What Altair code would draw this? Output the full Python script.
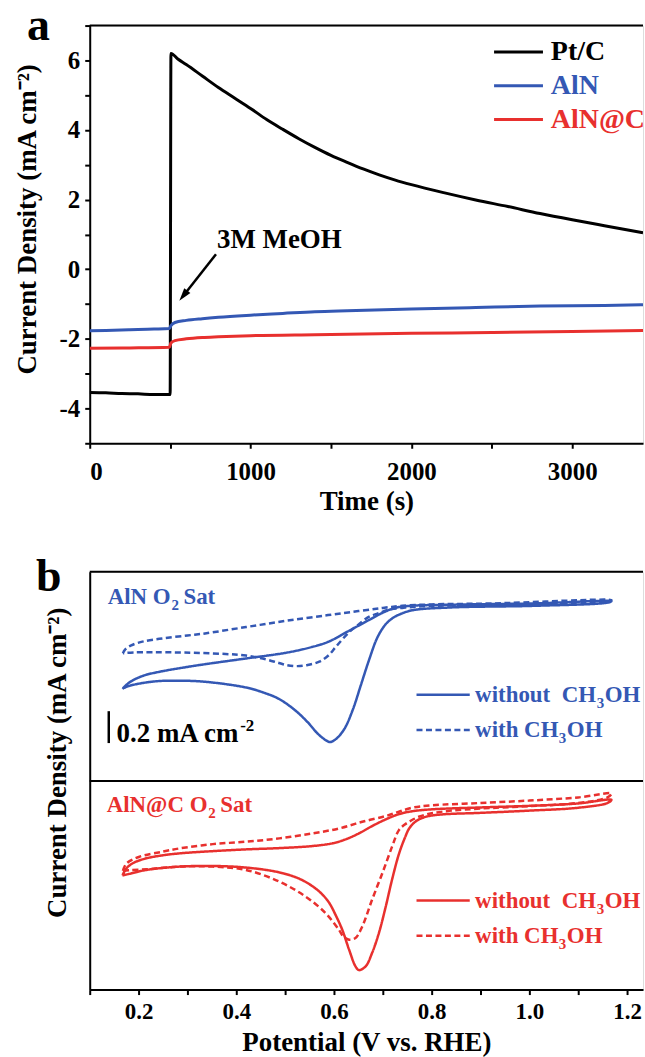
import altair as alt
import pandas as pd

FONT = "Liberation Serif"
BLACK = "#000000"
BLUE = "#3458b4"
RED = "#e8302e"

W = 555   # plot width of each panel (px)
H = 419   # plot height of each panel (px)

# ---------------- (a) chronoamperometry, 3M MeOH injected at 500 s ----------------
SERIES_A = ["Pt/C", "AlN", "AlN@C"]
COLORS_A = [BLACK, BLUE, RED]

time_ptc = [0, 100, 200, 300, 400, 500, 505, 550, 600, 700, 800, 900, 1000, 1100, 1200,
            1300, 1400, 1500, 1600, 1700, 1800, 1900, 2000, 2200, 2400, 2600, 2800, 3000, 3200, 3440]
j_ptc = [-3.54, -3.55, -3.57, -3.58, -3.60, -3.60, 6.20, 6.03, 5.88, 5.55, 5.22, 4.92, 4.62, 4.30, 4.02,
         3.75, 3.50, 3.27, 3.07, 2.88, 2.71, 2.56, 2.43, 2.20, 1.99, 1.80, 1.60, 1.42, 1.25, 1.05]

time_aln = [0, 100, 250, 400, 495, 505, 530, 600, 700, 800, 1000, 1200, 1400, 1600, 2000, 2400, 2800, 3200, 3440]
j_aln = [-1.77, -1.76, -1.74, -1.72, -1.70, -1.62, -1.53, -1.47, -1.42, -1.38, -1.32, -1.27, -1.22, -1.19,
         -1.14, -1.10, -1.06, -1.04, -1.02]

time_alnc = [0, 250, 495, 505, 530, 600, 700, 800, 1000, 1400, 2000, 2500, 3000, 3440]
j_alnc = [-2.27, -2.26, -2.24, -2.12, -2.05, -2.00, -1.96, -1.94, -1.91, -1.88, -1.84, -1.82, -1.79, -1.76]

TIME_TICKS = [0, 500, 1000, 1500, 2000, 2500, 3000]
J_TICKS = [-5, -4, -3, -2, -1, 0, 1, 2, 3, 4, 5, 6, 7]

# ---------------- (b) CVs in O2-saturated electrolyte, with / without CH3OH ----------------
SAMPLES_B = ["AlN", "AlN@C"]
COLORS_B = [BLUE, RED]
CONDS = ["without", "with"]
OFFSET_TOP = 1.308      # AlN loops sit in the upper half of the stacked panel (mA cm-2)
SCALE_BAR = 0.2         # mA cm-2

e_aln_wo = [0.167, 0.180, 0.194, 0.215, 0.252, 0.300, 0.336, 0.420, 0.504, 0.555, 0.588, 0.630, 0.672,
            0.700, 0.725, 0.756, 0.840, 1.008, 1.168,
            1.160, 1.008, 0.840, 0.760, 0.735, 0.722, 0.706, 0.689, 0.672, 0.655, 0.639, 0.622, 0.605,
            0.592, 0.584, 0.567, 0.546, 0.521, 0.487, 0.454, 0.420, 0.336, 0.278, 0.236, 0.194, 0.175, 0.167]
j_aln_wo = [0.578, 0.615, 0.640, 0.665, 0.690, 0.715, 0.732, 0.768, 0.805, 0.840, 0.872, 0.940, 1.010,
            1.055, 1.085, 1.098, 1.105, 1.113, 1.127,
            1.118, 1.098, 1.088, 1.070, 1.045, 1.025, 0.983, 0.900, 0.760, 0.600, 0.450, 0.330, 0.265,
            0.244, 0.254, 0.296, 0.369, 0.442, 0.515, 0.556, 0.586, 0.622, 0.629, 0.625, 0.606, 0.590, 0.578]

e_aln_w = [0.168, 0.172, 0.185, 0.210, 0.252, 0.300, 0.336, 0.420, 0.504, 0.588, 0.650, 0.700, 0.740,
           0.800, 0.924, 1.168,
           1.160, 0.924, 0.780, 0.740, 0.714, 0.690, 0.672, 0.650, 0.630, 0.605, 0.588, 0.570, 0.546,
           0.525, 0.504, 0.487, 0.460, 0.420, 0.378, 0.294, 0.230, 0.190, 0.172, 0.168]
j_aln_w = [0.800, 0.822, 0.850, 0.875, 0.895, 0.912, 0.925, 0.965, 1.005, 1.040, 1.065, 1.085, 1.098,
           1.107, 1.113, 1.134,
           1.125, 1.105, 1.095, 1.085, 1.075, 1.050, 1.030, 0.980, 0.930, 0.845, 0.785, 0.748, 0.727,
           0.720, 0.726, 0.740, 0.763, 0.786, 0.796, 0.805, 0.807, 0.806, 0.802, 0.800]

e_alnc_wo = [0.167, 0.175, 0.190, 0.216, 0.250, 0.284, 0.352, 0.420, 0.488, 0.556, 0.597, 0.624, 0.651,
             0.678, 0.706, 0.733, 0.760, 0.800, 0.900, 1.000, 1.100, 1.168,
             1.160, 1.100, 1.000, 0.900, 0.820, 0.790, 0.770, 0.755, 0.745, 0.733, 0.719, 0.706, 0.692,
             0.678, 0.665, 0.651, 0.644, 0.631, 0.617, 0.603, 0.590, 0.575, 0.556, 0.529, 0.488, 0.420,
             0.352, 0.284, 0.216, 0.180, 0.167]
j_alnc_wo = [0.715, 0.760, 0.795, 0.823, 0.842, 0.854, 0.868, 0.879, 0.887, 0.900, 0.917, 0.942, 0.979,
             1.025, 1.067, 1.100, 1.118, 1.130, 1.142, 1.152, 1.167, 1.190,
             1.170, 1.140, 1.122, 1.108, 1.098, 1.085, 1.060, 1.015, 0.950, 0.850, 0.690, 0.520, 0.354,
             0.229, 0.146, 0.122, 0.146, 0.250, 0.375, 0.470, 0.545, 0.600, 0.648, 0.695, 0.735, 0.765,
             0.775, 0.771, 0.750, 0.725, 0.715]

e_alnc_w = [0.168, 0.175, 0.202, 0.250, 0.284, 0.352, 0.420, 0.488, 0.556, 0.610, 0.658, 0.706, 0.733,
            0.760, 0.800, 0.900, 1.000, 1.100, 1.168,
            1.160, 1.100, 1.000, 0.900, 0.840, 0.800, 0.775, 0.758, 0.745, 0.733, 0.719, 0.699, 0.678,
            0.658, 0.644, 0.631, 0.620, 0.610, 0.583, 0.542, 0.488, 0.420, 0.352, 0.284, 0.216, 0.180, 0.168]
j_alnc_w = [0.744, 0.790, 0.833, 0.865, 0.885, 0.912, 0.927, 0.948, 0.979, 1.010, 1.052, 1.088, 1.115,
            1.140, 1.155, 1.170, 1.185, 1.205, 1.229,
            1.205, 1.170, 1.150, 1.135, 1.122, 1.105, 1.085, 1.060, 1.035, 1.000, 0.896, 0.729, 0.563,
            0.396, 0.323, 0.313, 0.330, 0.375, 0.479, 0.583, 0.677, 0.750, 0.771, 0.771, 0.754, 0.748, 0.744]

E_TICKS = [0.1, 0.2, 0.3, 0.4, 0.5, 0.6, 0.7, 0.8, 0.9, 1.0, 1.1, 1.2]

# ---------------- tables ----------------
rows = []
for name, ts, js in zip(SERIES_A, [time_ptc, time_aln, time_alnc], [j_ptc, j_aln, j_alnc]):
    for i, (t, j) in enumerate(zip(ts, js)):
        rows.append({"series": name, "i": i, "t": t, "j": j})
df_a = pd.DataFrame(rows)

rows = []
curves = [("AlN", "without", e_aln_wo, j_aln_wo), ("AlN", "with", e_aln_w, j_aln_w),
          ("AlN@C", "without", e_alnc_wo, j_alnc_wo), ("AlN@C", "with", e_alnc_w, j_alnc_w)]
for sample, cond, es, js in curves:
    off = OFFSET_TOP if sample == "AlN" else 0.0
    for i, (e, j) in enumerate(zip(es, js)):
        rows.append({"sample": sample, "cond": cond, "i": i, "E": e, "j": j + off})
df_b = pd.DataFrame(rows)

one = pd.DataFrame({"k": [0]})

# ---------------- shared axis styling ----------------
axis_common = dict(domainColor=BLACK, domainWidth=2, tickColor=BLACK, tickWidth=2, tickSize=5,
                   labelFont=FONT, labelFontWeight="bold", labelColor=BLACK,
                   titleFont=FONT, titleFontWeight="bold", titleColor=BLACK, grid=False)

def text_mark(size, color=BLACK, align="left", baseline="alphabetic", dx=0, dy=0, clip=False):
    return dict(font=FONT, fontWeight="bold", fontSize=size, color=color, align=align,
                baseline=baseline, dx=dx, dy=dy, clip=clip)

# ================= panel (a) =================
xa = alt.X("t:Q", scale=alt.Scale(domain=[0, 3440], nice=False, zero=False),
           axis=alt.Axis(values=TIME_TICKS,
                         labelExpr="datum.value % 1000 == 0 ? '' + datum.value : ''",
                         labelFontSize=25, labelPadding=11, title="Time (s)", titleFontSize=27,
                         titleY=66, titleBaseline="alphabetic", **axis_common))
ya = alt.Y("j:Q", scale=alt.Scale(domain=[-5, 7], nice=False, zero=False),
           axis=alt.Axis(values=J_TICKS,
                         labelExpr="datum.value % 2 == 0 ? (datum.value < 0 ? '-' + abs(datum.value) : '' + datum.value) : ''",
                         labelFontSize=25, labelPadding=5, title="Current Density (mA cm\u207b\u00b2)",
                         titleFontSize=27, titleAngle=270, titleX=-62, titleY=194,
                         titleBaseline="middle", titleAlign="center", **axis_common))
ca = alt.Color("series:N", scale=alt.Scale(domain=SERIES_A, range=COLORS_A), legend=None)

lines_a = alt.Chart(df_a).mark_line(strokeWidth=3, interpolate="monotone", clip=True).encode(
    x=xa, y=ya, color=ca, order=alt.Order("i:Q"))

top_a = alt.Chart(one).mark_rule(color=BLACK, strokeWidth=2).encode(
    x=alt.value(0), x2=alt.value(W), y=alt.value(0))

# legend (top right)
leg_a_lines = pd.DataFrame({"series": SERIES_A, "t": [2514] * 3, "t2": [2818] * 3, "j": [6.24, 5.27, 4.30]})
leg_a_text = pd.DataFrame({"series": SERIES_A, "t": [2867] * 3, "j": [6.24, 5.27, 4.30]})
legend_lines_a = alt.Chart(leg_a_lines).mark_rule(strokeWidth=3).encode(
    x=xa, x2="t2:Q", y=ya, color=ca)
legend_text_a = alt.Chart(leg_a_text).mark_text(**text_mark(28, baseline="middle", clip=True)).encode(
    x=xa, y=ya, text="series:N", color=ca)

# MeOH injection annotation
note_df = pd.DataFrame({"t": [791], "j": [0.617], "label": ["3M MeOH"]})
note = alt.Chart(note_df).mark_text(**text_mark(27)).encode(x=xa, y=ya, text="label:N")
shaft_df = pd.DataFrame({"t": [785], "j": [0.43], "t2": [582], "j2": [-0.76]})
shaft = alt.Chart(shaft_df).mark_rule(color=BLACK, strokeWidth=2.5).encode(
    x=xa, y=ya, x2="t2:Q", y2="j2:Q")
head_df = pd.DataFrame({"t": [582], "j": [-0.76]})
head = alt.Chart(head_df).mark_point(shape="M0,-1L-0.6,1L0.6,1Z", size=169, angle=218,
                                     filled=True, color=BLACK, opacity=1).encode(x=xa, y=ya)

tag_a = alt.Chart(one).mark_text(**text_mark(46)).encode(
    x=alt.value(-63), y=alt.value(14), text=alt.value("a"))

panel_a = alt.layer(lines_a, top_a, legend_lines_a, legend_text_a, note, shaft, head, tag_a).properties(
    width=W, height=H)

# ================= panel (b) =================
xb = alt.X("E:Q", scale=alt.Scale(domain=[0.1, 1.2327], nice=False, zero=False),
           axis=alt.Axis(values=E_TICKS,
                         labelExpr="round(datum.value * 10) % 2 == 0 ? format(datum.value, '.1f') : ''",
                         labelFontSize=23, labelPadding=6, title="Potential (V vs. RHE)", titleFontSize=27,
                         titleY=61, titleBaseline="alphabetic", **axis_common))
yb = alt.Y("j:Q", scale=alt.Scale(domain=[0, 2.619], nice=False, zero=False),
           axis=alt.Axis(ticks=False, labels=False, title="Current Density (mA cm\u207b\u00b2)",
                         titleFontSize=27, titleAngle=270, titleX=-32, titleY=191,
                         titleBaseline="middle", titleAlign="center", **axis_common))
cb = alt.Color("sample:N", scale=alt.Scale(domain=SAMPLES_B, range=COLORS_B), legend=None)
db = alt.StrokeDash("cond:N", scale=alt.Scale(domain=CONDS, range=[[1, 0], [6, 3.5]]), legend=None)

loops = alt.Chart(df_b).mark_line(strokeWidth=2.5, interpolate="catmull-rom", clip=True).encode(
    x=xb, y=yb, color=cb, strokeDash=db, order=alt.Order("i:Q"))

top_b = alt.Chart(one).mark_rule(color=BLACK, strokeWidth=2).encode(
    x=alt.value(0), x2=alt.value(W), y=alt.value(0))
divider = alt.Chart(pd.DataFrame({"j": [OFFSET_TOP]})).mark_rule(color=BLACK, strokeWidth=2).encode(
    x=alt.value(0), x2=alt.value(W), y=yb)

# legends inside each half
leg_b = pd.DataFrame({
    "sample": ["AlN", "AlN", "AlN@C", "AlN@C"],
    "cond": ["without", "with", "without", "with"],
    "E": [0.769] * 4, "E2": [0.878] * 4,
    "j": [0.540 + OFFSET_TOP, 0.319 + OFFSET_TOP, 0.558, 0.3375],
})
legend_lines_b = alt.Chart(leg_b).mark_rule(strokeWidth=2.5).encode(
    x=xb, x2="E2:Q", y=yb, color=cb, strokeDash=db)

leg_b_text = leg_b.assign(E=0.889)
legend_text_b = []
pieces = {
    "without": [("without\u00a0\u00a0CH", 23, 0, 0), ("3", 15, 122, 8), ("OH", 23, 130, 0)],
    "with": [("with CH", 23, 0, 0), ("3", 15, 84, 8), ("OH", 23, 92, 0)],
}
for cond in CONDS:
    sub = leg_b_text[leg_b_text["cond"] == cond]
    for txt, size, dx, dy in pieces[cond]:
        legend_text_b.append(
            alt.Chart(sub).mark_text(**text_mark(size, baseline="middle", dx=dx, dy=dy)).encode(
                x=xb, y=yb, color=cb, text=alt.value(txt)))

# sample labels
sample_pieces = {
    "AlN": (0.1367, 1.111 + OFFSET_TOP, [("AlN O", 23, 0, 0), ("2", 15, 64, 6), ("Sat", 23, 76, 0)]),
    "AlN@C": (0.1347, 1.114, [("AlN@C O", 23, 0, 0), ("2", 15, 102, 6), ("Sat", 23, 114, 0)]),
}
sample_labels = []
for sample, (e0, j0, parts) in sample_pieces.items():
    sdf = pd.DataFrame({"sample": [sample], "E": [e0], "j": [j0]})
    for txt, size, dx, dy in parts:
        sample_labels.append(
            alt.Chart(sdf).mark_text(**text_mark(size, dx=dx, dy=dy)).encode(
                x=xb, y=yb, color=cb, text=alt.value(txt)))

# 0.2 mA cm-2 scale bar
bar_y0 = 0.2375 + OFFSET_TOP
bar_df = pd.DataFrame({"E": [0.139], "j": [bar_y0], "j2": [bar_y0 + SCALE_BAR]})
scale_bar = alt.Chart(bar_df).mark_rule(color=BLACK, strokeWidth=2.5).encode(x=xb, y=yb, y2="j2:Q")
bar_lbl_df = pd.DataFrame({"E": [0.155], "j": [0.244 + OFFSET_TOP]})
bar_label = alt.Chart(bar_lbl_df).mark_text(**text_mark(27)).encode(
    x=xb, y=yb, text=alt.value(f"{SCALE_BAR} mA cm"))
bar_label_sup = alt.Chart(bar_lbl_df).mark_text(**text_mark(17, dx=124, dy=-11)).encode(
    x=xb, y=yb, text=alt.value("-2"))

tag_b = alt.Chart(one).mark_text(**text_mark(46)).encode(
    x=alt.value(-54), y=alt.value(19), text=alt.value("b"))

panel_b = alt.layer(loops, top_b, divider, legend_lines_b, *legend_text_b, *sample_labels,
                    scale_bar, bar_label, bar_label_sup, tag_b).properties(width=W, height=H)

chart = alt.vconcat(panel_a, panel_b, spacing=129, bounds="flush").properties(
    padding={"left": 13, "top": 0, "right": 0, "bottom": 0}
).configure_view(stroke="transparent").configure(background="white")

chart.save("out.html", embed_options={"renderer": "svg", "actions": False})
